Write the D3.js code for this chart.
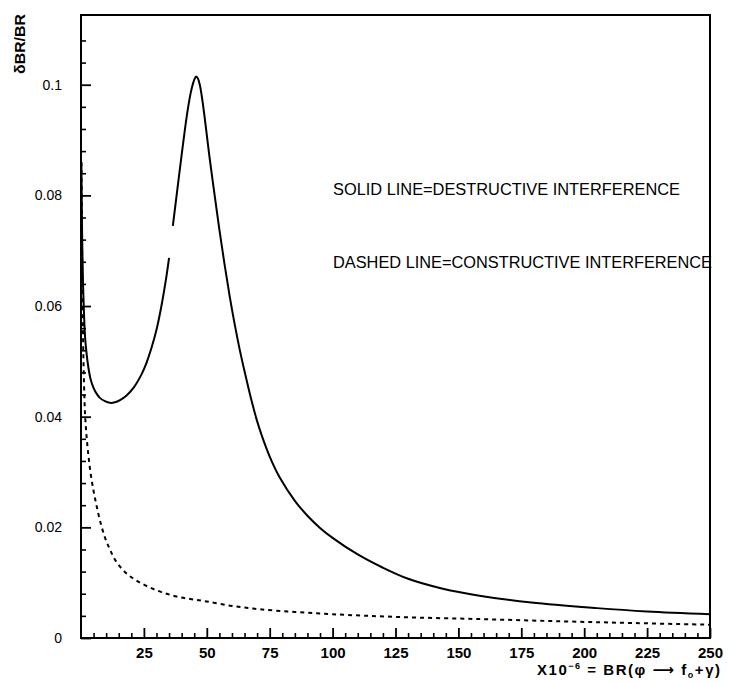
<!DOCTYPE html>
<html>
<head>
<meta charset="utf-8">
<script src="https://cdn.jsdelivr.net/npm/d3@7"></script>
<style>
html,body{margin:0;padding:0;background:#fff;}
svg{display:block;}
text{font-family:"Liberation Sans","DejaVu Sans",sans-serif;fill:#000;}
</style>
</head>
<body>
<svg id="chart" width="730" height="683"></svg>
<script>
// ---- data ----
const solidX = [0.15,0.3,0.5,0.8,1.2,1.6,2.2,2.9,3.8,4.9,6,7.5,9.5,11.5,13.5,15.5,18,21,24,26,28,30,32,34,35,
                null,
                36.5,38,40,42,43.5,44.5,45.2,45.8,46.5,47.3,48.3,49.5,51,53,55,57,59,61,63,65,68,70,72,75,79,85,90,95,100,110,120,130,143,159,179,205,225,250];
const solidY = [0.086,0.079,0.071,0.064,0.0585,0.0545,0.0515,0.049,0.0468,0.0453,0.0443,0.0434,0.0428,0.0425,0.0426,0.0430,0.0438,0.0453,0.0476,0.0497,0.0524,0.0557,0.0601,0.0655,0.0687,
                null,
                0.0745,0.0800,0.0873,0.0942,0.0983,0.1002,0.1011,0.1015,0.1011,0.0998,0.0970,0.0928,0.0872,0.0804,0.0738,0.0677,0.0620,0.0569,0.0523,0.0482,0.0425,0.0392,0.0364,0.0328,0.0290,0.0248,0.0221,0.0199,0.0181,0.0151,0.0127,0.0107,0.0090,0.0076,0.0064,0.0054,0.0048,0.0043];
const dashedX = [0.15,0.3,0.5,0.8,1.2,1.6,2.2,2.9,3.8,4.9,6,7.5,9.5,11.5,14,18,22,27,32,38,44,50,60,71,85,100,126,160,192,220,250];
const dashedY = [0.086,0.078,0.067,0.055,0.046,0.0405,0.0365,0.0332,0.0298,0.0268,0.0243,0.0213,0.0182,0.0160,0.0138,0.0117,0.0104,0.0092,0.0083,0.0075,0.0070,0.0066,0.0058,0.0052,0.0047,0.0043,0.0038,0.0034,0.0030,0.0027,0.0024];
const xMajorTicks = [25,50,75,100,125,150,175,200,225,250];
const xMinorTicks = d3.range(5,250,5).filter(v => v % 25 !== 0);
const yMajorTicks = [0,0.02,0.04,0.06,0.08,0.1];
const yTickLabels = ["0","0.02","0.04","0.06","0.08","0.1"];
const yMinorTicks = [0.004,0.008,0.012,0.016,0.024,0.028,0.032,0.036,0.044,0.048,0.052,0.056,0.064,0.068,0.072,0.076,0.084,0.088,0.092,0.096,0.104,0.108];
const note1 = "SOLID LINE=DESTRUCTIVE INTERFERENCE";
const note2 = "DASHED LINE=CONSTRUCTIVE INTERFERENCE";
const yTitle = "δBR/BR";

// ---- layout ----
const L = 81, R = 710, T = 15, B = 638;
const svg = d3.select("#chart");
const x = d3.scaleLinear().domain([0,250]).range([L,R]);
const y = d3.scaleLinear().domain([0,0.1126]).range([B,T]);

// minor ticks
svg.append("g").attr("transform",`translate(0,${B})`)
  .call(d3.axisBottom(x).tickValues(xMinorTicks).tickSize(-5).tickFormat(""))
  .call(g=>g.select(".domain").remove())
  .call(g=>g.selectAll("line").attr("stroke","#000").attr("stroke-width",1.6));
svg.append("g").attr("transform",`translate(${L},0)`)
  .call(d3.axisLeft(y).tickValues(yMinorTicks).tickSize(-5).tickFormat(""))
  .call(g=>g.select(".domain").remove())
  .call(g=>g.selectAll("line").attr("stroke","#000").attr("stroke-width",1.6));

// major ticks
svg.append("g").attr("transform",`translate(0,${B})`)
  .call(d3.axisBottom(x).tickValues(xMajorTicks).tickSize(-10).tickPadding(9).tickFormat(d3.format("d")))
  .call(g=>g.select(".domain").remove())
  .call(g=>g.selectAll("line").attr("stroke","#000").attr("stroke-width",1.8))
  .call(g=>g.selectAll("text").attr("font-size",15).attr("font-weight","bold")
      .attr("font-family","'Liberation Sans',sans-serif"));
svg.append("g").attr("transform",`translate(${L},0)`)
  .call(d3.axisLeft(y).tickValues(yMajorTicks).tickSize(-10).tickPadding(19)
        .tickFormat((d,i)=>yTickLabels[i]))
  .call(g=>g.select(".domain").remove())
  .call(g=>g.selectAll("line").attr("stroke","#000").attr("stroke-width",1.8))
  .call(g=>g.selectAll("text").attr("font-size",14)
      .attr("font-family","'Liberation Sans',sans-serif"));

// frame
svg.append("rect").attr("x",L).attr("y",T).attr("width",R-L).attr("height",B-T)
  .attr("fill","none").attr("stroke","#000").attr("stroke-width",2);

// curves
const solid = solidX.map((v,i)=>({x:v,y:solidY[i]}));
const dashed = dashedX.map((v,i)=>({x:v,y:dashedY[i]}));
const line = d3.line().defined(d=>d.x!==null && d.y!==null)
  .x(d=>x(d.x)).y(d=>y(d.y)).curve(d3.curveCatmullRom.alpha(0.5));
svg.append("path").datum(solid).attr("d",line)
  .attr("fill","none").attr("stroke","#000").attr("stroke-width",2);
svg.append("path").datum(dashed).attr("d",line)
  .attr("fill","none").attr("stroke","#000").attr("stroke-width",2)
  .attr("stroke-dasharray","4,4");

// annotations
svg.append("text").attr("x",333).attr("y",195).attr("font-size",16)
  .attr("textLength",347).attr("lengthAdjust","spacingAndGlyphs").text(note1);
svg.append("text").attr("x",333).attr("y",268).attr("font-size",16)
  .attr("textLength",379).attr("lengthAdjust","spacingAndGlyphs").text(note2);

// y title (rotated)
svg.append("text").attr("transform","translate(25,44) rotate(-90)")
  .attr("text-anchor","middle").attr("font-size",14).attr("font-weight","bold")
  .attr("textLength",60).attr("lengthAdjust","spacingAndGlyphs").text(yTitle);

// x title
const xt = svg.append("text").attr("x",537).attr("y",675).attr("font-size",15).attr("font-weight","bold")
  .attr("textLength",183).attr("lengthAdjust","spacing");
xt.append("tspan").text("X10");
xt.append("tspan").attr("dy",-6).attr("font-size",9).text("−6");
xt.append("tspan").attr("dy",6).text(" = BR(φ ⟶ f");
xt.append("tspan").attr("dy",3).attr("font-size",9).text("o");
xt.append("tspan").attr("dy",-3).text("+γ)");
</script>
</body>
</html>
